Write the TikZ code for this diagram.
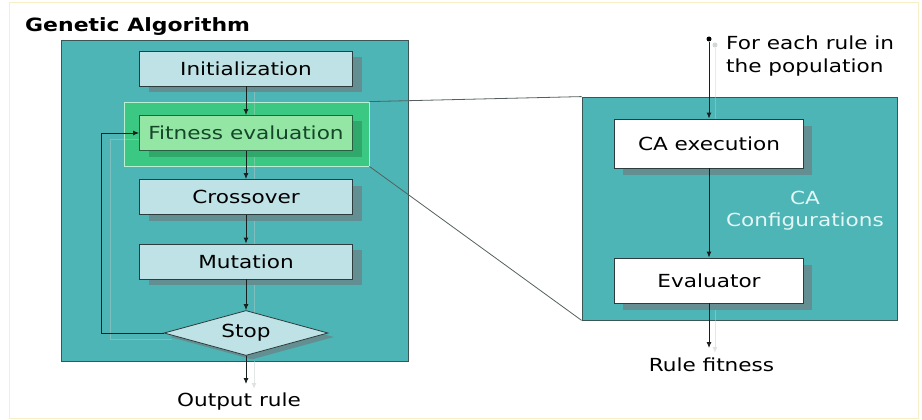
\documentclass[tikz,border=0pt]{standalone}
\usepackage{fontspec}
\setmainfont[FakeStretch=1.2]{DejaVu Sans}
\usetikzlibrary{arrows.meta,shapes.geometric,shadows}
\definecolor{tealbg}{RGB}{77,181,181}
\definecolor{panelline}{RGB}{60,85,85}
\definecolor{boxfill}{RGB}{190,226,229}
\definecolor{boxline}{RGB}{45,60,60}
\definecolor{shadowc}{RGB}{100,143,146}
\definecolor{hlfill}{RGB}{58,200,130}
\definecolor{hlline}{RGB}{185,240,212}
\definecolor{fitfill}{RGB}{148,230,165}
\definecolor{fitline}{RGB}{40,95,65}
\definecolor{fitshadow}{RGB}{48,168,108}
\definecolor{fittext}{RGB}{20,70,40}
\definecolor{linec}{RGB}{25,30,30}
\definecolor{zoomc}{RGB}{85,95,95}
\definecolor{framec}{RGB}{248,238,200}
\definecolor{shlinec}{RGB}{200,205,205}
\definecolor{conftext}{RGB}{228,246,246}
\begin{document}
\begin{tikzpicture}[x=1pt,y=-1pt,
  font=\fontsize{18}{22}\selectfont,
  panel/.style={draw=panelline, fill=tealbg, line width=0.8pt, inner sep=0pt},
  gbox/.style={draw=boxline, fill=boxfill, line width=0.8pt, inner sep=0pt,
    minimum width=213pt, minimum height=35pt, text=black,
    drop shadow={shadow xshift=9pt, shadow yshift=-6pt, fill=shadowc, opacity=1}},
  fitbox/.style={gbox, fill=fitfill, draw=fitline, text=fittext,
    drop shadow={shadow xshift=9pt, shadow yshift=-6pt, fill=fitshadow, opacity=1}},
  wbox/.style={draw=boxline, fill=white, line width=0.8pt, inner sep=0pt,
    minimum width=189pt, text=black,
    drop shadow={shadow xshift=8pt, shadow yshift=-7pt, fill=shadowc, opacity=1}},
  arr/.style={-{Latex[length=6pt,width=5pt]}, line width=0.9pt, draw=linec},
  shline/.style={-{Latex[length=6pt,width=5pt]}, line width=0.9pt, draw=shlinec, fill=shlinec, opacity=0.45},
  shplain/.style={line width=0.9pt, draw=shlinec, opacity=0.4},
  zoomline/.style={draw=zoomc, line width=0.8pt},
  lbl/.style={inner sep=0pt, text=black}
]
\useasboundingbox (0,0) rectangle (922,420);
\node[draw=framec, line width=1pt, minimum width=909pt, minimum height=415pt, inner sep=0pt] (frame) at (463.5,210.5) {};

% title
\node[lbl, anchor=base west, font=\fontsize{18.3}{22}\selectfont\bfseries] (title) at (25,32) {Genetic Algorithm};

% panels
\node[panel, minimum width=347pt, minimum height=321pt] (lp) at (234.5,200.5) {};
\node[panel, minimum width=315pt, minimum height=223pt] (rp) at (739.5,208.5) {};

% highlight
\node[draw=hlline, fill=hlfill, line width=0.8pt, minimum width=245pt, minimum height=64pt, inner sep=0pt] (hl) at (246.5,134) {};

% zoom lines
\draw[zoomline] (hl.north east) -- (rp.north west);
\draw[zoomline] (hl.south east) -- (rp.south west);

% left boxes
\coordinate (c-init) at (246,68.5);
\coordinate (c-fit) at (246,133);
\coordinate (c-cross) at (246,197);
\coordinate (c-mut) at (246,261.5);
\coordinate (c-stop) at (246,333);

% shadow connectors (left)
\draw[shplain] ([shift={(8,6)}]c-init) -- ([shift={(8,6)}]c-stop);
\draw[shline] ([shift={(8,6)}]246,355) -- (254,389);
\draw[shplain] (172,339) -- (110,339) -- (110,139) -- (147,139);

\node[gbox] (init) at (c-init) {Initialization};
\node[fitbox] (fit) at (c-fit) {Fitness evaluation};
\node[gbox] (cross) at (c-cross) {Crossover};
\node[gbox] (mut) at (c-mut) {Mutation};
\node[diamond, draw=boxline, fill=boxfill, line width=0.8pt, inner sep=0pt, aspect=3.64,
      minimum width=164pt, minimum height=45pt, text=black,
      drop shadow={shadow xshift=6pt, shadow yshift=-4pt, fill=shadowc, opacity=1}] (stop) at (c-stop) {Stop};

\draw[arr] (init) -- (fit);
\draw[arr] (fit) -- (cross);
\draw[arr] (cross) -- (mut);
\draw[arr] (mut) -- (stop);
\draw[arr] (stop.west) -- ++(-62,0) |- (fit.west);
\coordinate (outend) at (246,384);
\draw[arr] (stop.south) -- (outend);
\node[lbl, anchor=base] (outlbl) at (239,406) {Output rule};

% right side
\node[circle, fill=shlinec, opacity=0.8, inner sep=0pt, minimum size=5pt] (dotsh) at (715,45) {};
\draw[shplain] (dotsh) -- (715,125);
\draw[shline] (715,300) -- (715,353);

\node[wbox, minimum height=49pt] (caex) at (709,143.5) {CA execution};
\node[wbox, minimum height=45pt] (eval) at (709,280.5) {Evaluator};

\node[circle, fill=black, inner sep=0pt, minimum size=5pt] (dot) at (709,39) {};
\draw[arr] (dot) -- (caex);
\draw[arr] (caex) -- (eval);
\coordinate (rfend) at (709,348);
\draw[arr] (eval) -- (rfend);

\node[lbl, anchor=north west, align=left, font=\fontsize{18}{23}\selectfont] (foreach) at (726,35.5) {For each rule in\\the population};
\node[lbl, anchor=base] (rflbl) at (711.5,371) {Rule fitness};
\node[inner sep=0pt, align=center, text=conftext, font=\fontsize{18}{22}\selectfont] (conf) at (805,211) {CA\\Configurations};
\end{tikzpicture}
\end{document}
